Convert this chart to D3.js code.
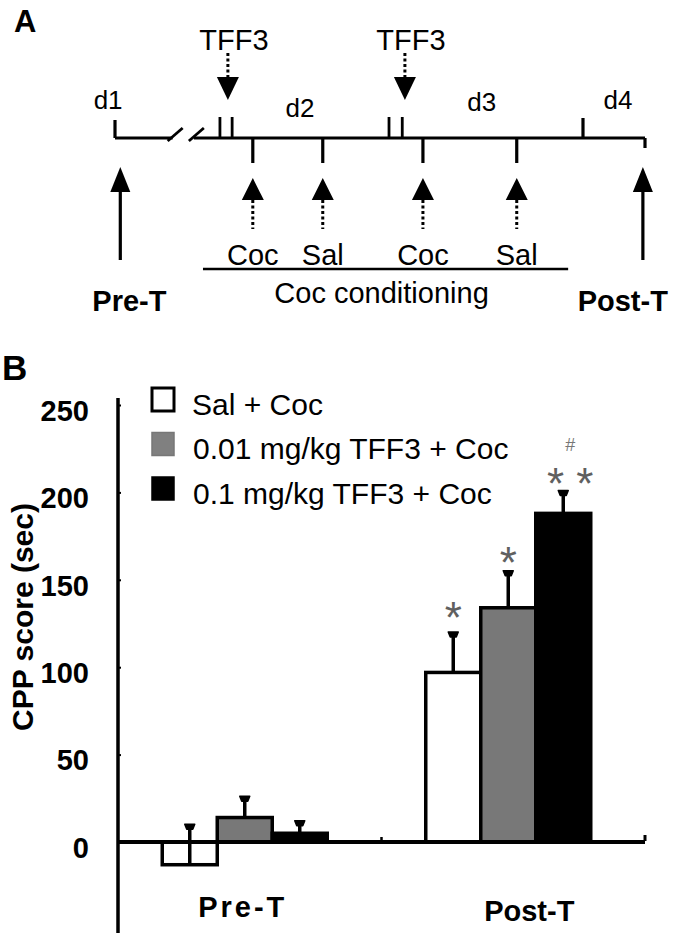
<!DOCTYPE html>
<html>
<head>
<meta charset="utf-8">
<script src="https://cdn.jsdelivr.net/npm/d3@7"></script>
<style>
  html, body { margin: 0; padding: 0; background: #fff; }
  svg { display: block; }
  text { font-family: "Liberation Sans", Arial, Helvetica, sans-serif; }
</style>
</head>
<body>
<svg id="chart" width="675" height="940"></svg>
<script>
// ---------------- DATA ----------------
// Panel B: CPP score (sec)
const groups = ["Pre-T", "Post-T"];
const seriesNames = ["Sal + Coc", "0.01 mg/kg TFF3 + Coc", "0.1 mg/kg TFF3 + Coc"];
const seriesColors = ["#ffffff", "#787878", "#000000"];
const preTValues  = [-13, 14, 5];
const preTErrors  = [22, 11, 6];
const postTValues = [97, 134, 188];
const postTErrors = [22, 20, 12];
const yTicks = [0, 50, 100, 150, 200, 250];
// significance marks per post-T bar
const postTMarks = ["*", "*", "* *"];
const postTHash  = ["", "", "#"];

// Panel A: timeline (arbitrary time units 0..100)
const dayLabels = [
  { label: "d1", t: -1.3, dy: 0 },
  { label: "d2", t: 34.9, dy: 8 },
  { label: "d3", t: 69.2, dy: 2 },
  { label: "d4", t: 94.9, dy: 0 }
];
const tffInjections = [ { ticks: [19.8, 22.1], arrow: 21.3 }, { ticks: [51.7, 54.2], arrow: 54.7 } ];
const sessions = [ { label: "Coc", t: 26.0 }, { label: "Sal", t: 39.2 }, { label: "Coc", t: 58.1 }, { label: "Sal", t: 75.8 } ];
const dayStartTicks = [0, 88.3];
const tests = [ { label: "Pre-T", t: 1.0 }, { label: "Post-T", t: 99.6 } ];
const conditioningSpan = [16.6, 85.5];
const breakAt = [10.5, 14.5];

// ---------------- DRAW ----------------
const svg = d3.select("#chart");

// Panel labels
svg.append("text").attr("x", 14).attr("y", 32).attr("font-size", 31).attr("font-weight", "bold").attr("fill", "#000").text("A");
svg.append("text").attr("x", 2).attr("y", 380).attr("font-size", 35).attr("font-weight", "bold").attr("fill", "#000").text("B");

// ---------- Panel A ----------
const tx = d3.scaleLinear().domain([0, 100]).range([115, 645]);
const lineY = 138;
const gA = svg.append("g");
const lw = 3.2;

gA.append("line").attr("x1", tx(0)).attr("x2", tx(breakAt[0]) + 2).attr("y1", lineY).attr("y2", lineY)
  .attr("stroke", "#000").attr("stroke-width", lw);
gA.append("line").attr("x1", tx(breakAt[1]) + 2).attr("x2", tx(100)).attr("y1", lineY).attr("y2", lineY)
  .attr("stroke", "#000").attr("stroke-width", lw);
breakAt.forEach(b => {
  gA.append("line").attr("x1", tx(b) - 3).attr("y1", lineY + 3).attr("x2", tx(b) + 12).attr("y2", lineY - 10)
    .attr("stroke", "#000").attr("stroke-width", 2.8);
});

gA.selectAll(".dtick").data(dayStartTicks).join("line")
  .attr("x1", d => tx(d)).attr("x2", d => tx(d)).attr("y1", d => d === 0 ? lineY - 18 : lineY - 20).attr("y2", lineY)
  .attr("stroke", "#000").attr("stroke-width", lw);
gA.append("line").attr("x1", tx(100)).attr("x2", tx(100)).attr("y1", lineY).attr("y2", lineY + 10)
  .attr("stroke", "#000").attr("stroke-width", lw);

gA.selectAll(".dlab").data(dayLabels).join("text")
  .attr("x", d => tx(d.t)).attr("y", d => 100 + d.dy).attr("dy", "0.35em")
  .attr("text-anchor", "middle").attr("font-size", 26).attr("fill", "#000").text(d => d.label);

tffInjections.forEach(inj => {
  inj.ticks.forEach(t => {
    gA.append("line").attr("x1", tx(t)).attr("x2", tx(t)).attr("y1", lineY - 21).attr("y2", lineY)
      .attr("stroke", "#000").attr("stroke-width", 2.8);
  });
  const ax = tx(inj.arrow);
  gA.append("line").attr("x1", ax).attr("x2", ax).attr("y1", 53).attr("y2", 78)
    .attr("stroke", "#000").attr("stroke-width", 3).attr("stroke-dasharray", "3,2.5");
  gA.append("path").attr("d", `M${ax - 11},77 L${ax + 11},77 L${ax},100 Z`).attr("fill", "#000");
  gA.append("text").attr("x", ax + 6).attr("y", 40).attr("dy", "0.35em").attr("text-anchor", "middle")
    .attr("font-size", 29).attr("fill", "#000").text("TFF3");
});

sessions.forEach(s => {
  const sx = tx(s.t);
  gA.append("line").attr("x1", sx).attr("x2", sx).attr("y1", lineY).attr("y2", lineY + 25)
    .attr("stroke", "#000").attr("stroke-width", lw);
  gA.append("path").attr("d", `M${sx - 11},200 L${sx + 11},200 L${sx},178 Z`).attr("fill", "#000");
  gA.append("line").attr("x1", sx).attr("x2", sx).attr("y1", 200).attr("y2", 229)
    .attr("stroke", "#000").attr("stroke-width", 3).attr("stroke-dasharray", "3,2.5");
  gA.append("text").attr("x", sx).attr("y", 255).attr("dy", "0.35em").attr("text-anchor", "middle")
    .attr("font-size", 29).attr("fill", "#000").text(s.label);
});

gA.append("line").attr("x1", tx(conditioningSpan[0])).attr("x2", tx(conditioningSpan[1])).attr("y1", 269).attr("y2", 269)
  .attr("stroke", "#000").attr("stroke-width", 2.6);
gA.append("text").attr("x", (tx(conditioningSpan[0]) + tx(conditioningSpan[1])) / 2 - 4).attr("y", 293).attr("dy", "0.35em")
  .attr("text-anchor", "middle").attr("font-size", 29).attr("fill", "#000").text("Coc conditioning");

tests.forEach((tt, i) => {
  const ax = tx(tt.t);
  gA.append("path").attr("d", `M${ax - 10},192 L${ax + 10},192 L${ax},167 Z`).attr("fill", "#000");
  gA.append("line").attr("x1", ax).attr("x2", ax).attr("y1", 190).attr("y2", 260)
    .attr("stroke", "#000").attr("stroke-width", 3.2);
  gA.append("text").attr("x", i === 0 ? ax - 28 : ax + 25).attr("y", 301).attr("dy", "0.35em")
    .attr("text-anchor", i === 0 ? "start" : "end").attr("font-size", 29).attr("font-weight", "bold")
    .attr("fill", "#000").text(tt.label);
});

// ---------- Panel B ----------
const y = d3.scaleLinear().domain([0, 250]).range([842, 405]);
const x0 = d3.scaleBand().domain(groups).range([118, 645]).padding(0);
const x1 = d3.scaleBand().domain(seriesNames).range([0, 165]).padding(0);
const groupOffset = (x0.bandwidth() - 165) / 2 - 5;
const axisExtent = [-52, 254];

const gB = svg.append("g");

const yAxis = d3.axisLeft(y).tickValues(yTicks).tickSizeInner(-3).tickSizeOuter(0).tickPadding(29);
const gy = gB.append("g").attr("transform", "translate(118,0)").call(yAxis);
gy.select(".domain").remove();
gy.selectAll(".tick line").attr("stroke", "#000").attr("stroke-width", 2);
gy.selectAll(".tick text").attr("font-size", 29).attr("font-weight", "bold")
  .attr("font-family", "'Liberation Sans', Arial, sans-serif").attr("fill", "#000").attr("y", 6);
gB.append("line").attr("x1", 118).attr("x2", 118).attr("y1", y(axisExtent[1])).attr("y2", y(axisExtent[0]))
  .attr("stroke", "#000").attr("stroke-width", 3.5);

gB.append("text").attr("transform", `translate(33,${617}) rotate(-90)`).attr("text-anchor", "middle")
  .attr("font-size", 30).attr("font-weight", "bold").attr("fill", "#000").text("CPP score (sec)");

const data = [
  { group: "Pre-T", values: preTValues, errors: preTErrors, marks: ["", "", ""], hash: ["", "", ""] },
  { group: "Post-T", values: postTValues, errors: postTErrors, marks: postTMarks, hash: postTHash }
];

data.forEach(g => {
  const gx = x0(g.group) + groupOffset;
  seriesNames.forEach((s, i) => {
    const v = g.values[i], e = g.errors[i];
    const bx = gx + x1(s);
    const bw = x1.bandwidth();
    const cx = bx + bw / 2;
    gB.append("rect").attr("x", bx).attr("width", bw)
      .attr("y", y(Math.max(0, v))).attr("height", Math.abs(y(v) - y(0)))
      .attr("fill", seriesColors[i]).attr("stroke", "#000").attr("stroke-width", 3.5);
    gB.append("line").attr("x1", cx).attr("x2", cx).attr("y1", y(v)).attr("y2", y(v + e))
      .attr("stroke", "#000").attr("stroke-width", 3.5);
    gB.append("path")
      .attr("d", `M${cx - 5},${y(v + e) - 2} L${cx + 5},${y(v + e) - 2} L${cx + 3},${y(v + e) + 3} L${cx - 3},${y(v + e) + 3} Z`)
      .attr("fill", "#000").attr("stroke", "#000").attr("stroke-width", 1.5).attr("stroke-linejoin", "round");
    const m = g.marks[i];
    if (m) {
      const two = m.length > 1;
      gB.append("text").attr("x", cx + (two ? 7 : 0)).attr("y", y(v + e) - 26 + (two ? 8 : 0) + (i === 1 ? 6 : 0))
        .attr("dy", "0.57em").attr("text-anchor", "middle").attr("font-size", 44).attr("fill", "#606060")
        .attr("xml:space", "preserve").text(m);
    }
    if (g.hash[i]) {
      gB.append("text").attr("x", cx + 7).attr("y", y(v + e) - 48).attr("dy", "0.35em").attr("text-anchor", "middle")
        .attr("font-size", 18).attr("fill", "#777").text(g.hash[i]);
    }
  });
});

gB.append("line").attr("x1", x0.range()[0]).attr("x2", x0.range()[1]).attr("y1", y(0)).attr("y2", y(0))
  .attr("stroke", "#000").attr("stroke-width", 4);
gB.append("line").attr("x1", x0("Post-T")).attr("x2", x0("Post-T")).attr("y1", y(0)).attr("y2", y(0) - 5)
  .attr("stroke", "#000").attr("stroke-width", 2.5);
gB.append("line").attr("x1", x0.range()[1]).attr("x2", x0.range()[1]).attr("y1", y(0) - 1).attr("y2", y(0) - 7)
  .attr("stroke", "#000").attr("stroke-width", 3);

gB.selectAll(".glab").data(groups).join("text")
  .attr("x", d => x0(d) + x0.bandwidth() / 2 + (d === "Pre-T" ? -7 : 16))
  .attr("y", (d, i) => 907 + i * 4).attr("dy", "0.35em").attr("text-anchor", "middle")
  .attr("letter-spacing", d => d === "Pre-T" ? 3 : 0)
  .attr("font-size", 29).attr("font-weight", "bold").attr("fill", "#000").text(d => d);

const legend = gB.append("g").attr("transform", "translate(152,388)");
seriesNames.forEach((s, i) => {
  const ly = i * 44.5;
  legend.append("rect").attr("x", 0).attr("y", ly).attr("width", 22).attr("height", 23)
    .attr("fill", i === 1 ? "#808080" : seriesColors[i])
    .attr("stroke", i === 1 ? "#777" : "#000").attr("stroke-width", i === 0 ? 3 : 1.5);
  legend.append("text").attr("x", 40 + (i === 0 ? 0 : 1)).attr("y", ly + 16).attr("dy", "0.35em")
    .attr("font-size", 30).attr("fill", "#000").text(s);
});
</script>
</body>
</html>
